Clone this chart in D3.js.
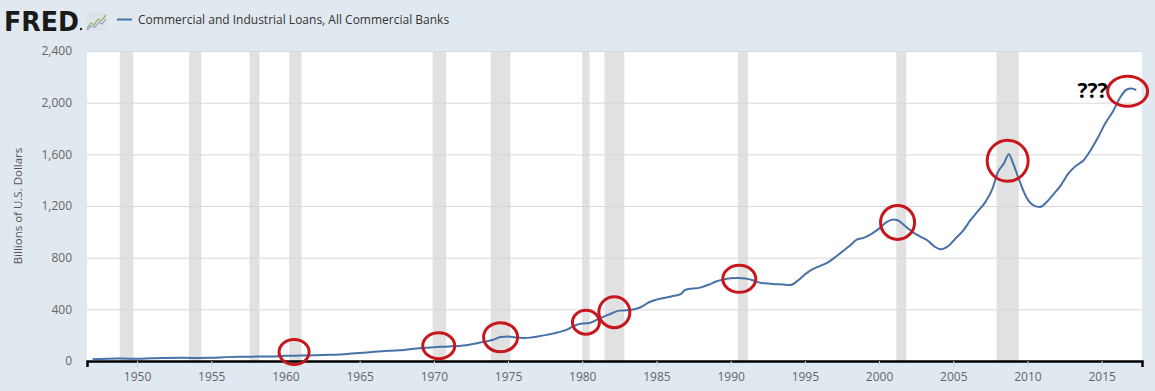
<!DOCTYPE html>
<html>
<head>
<meta charset="utf-8">
<script src="https://cdn.jsdelivr.net/npm/d3@7"></script>
<style>
  body { margin: 0; background: #e1e9f0; }
  svg { display: block; font-family: "Open Sans", sans-serif; }
</style>
</head>
<body>
<svg id="fredChart" width="1155" height="391"></svg>
<script>
// C&I loans, billions of dollars
const dates = [
  "1947-01","1948-01","1949-01","1950-01","1951-01","1952-01","1953-01","1954-01","1955-01","1956-01",
  "1957-01","1958-01","1959-01","1960-01","1961-01","1962-01","1963-01","1964-01","1965-01","1966-01",
  "1967-01","1968-01","1969-01","1970-01","1971-01","1972-01","1973-01","1974-01","1974-07","1975-01",
  "1975-07","1976-01","1976-07","1977-01","1978-01","1979-01","1979-07","1980-01","1980-07","1981-01",
  "1981-07","1982-01","1982-07","1983-01","1983-07","1984-01","1984-07","1985-01","1986-01","1986-09",
  "1986-12","1988-01","1988-07","1989-01","1989-07","1990-01","1990-07","1991-01","1991-07","1992-01",
  "1992-07","1993-01","1993-07","1994-01","1994-07","1995-01","1995-07","1996-01","1996-07","1997-01",
  "1997-07","1998-01","1998-07","1999-01","1999-07","2000-01","2000-07","2001-01","2001-04","2001-10",
  "2002-04","2002-10","2003-04","2003-10","2004-03","2004-09","2005-03","2005-09","2006-03","2006-09",
  "2007-03","2007-09","2008-01","2008-06","2008-10","2009-01","2009-06","2009-12","2010-06","2010-11",
  "2011-04","2011-10","2012-04","2012-10","2013-04","2013-10","2014-04","2014-10","2015-04","2015-10",
  "2016-04","2016-09","2017-01","2017-05"
];
const loans = [
  14, 18, 19, 17, 22, 24, 25, 24, 25, 30,
  33, 34, 35, 40, 42, 44, 48, 53, 61, 71,
  79, 86, 98, 107, 112, 120, 140, 165, 185, 189,
  182, 178, 181, 190, 212, 245, 275, 290, 295, 320,
  345, 370, 390, 392, 400, 420, 455, 475, 500, 520,
  550, 570, 590, 615, 632, 640, 642, 638, 625, 605,
  600, 595, 592, 588, 620, 670, 710, 735, 760, 800,
  845, 890, 940, 955, 985, 1025, 1075, 1095, 1090, 1045,
  1000, 965, 935, 885, 865, 890, 950, 1010, 1090, 1160,
  1230, 1340, 1460, 1530, 1600, 1540, 1410, 1270, 1205, 1192,
  1225, 1290, 1360, 1450, 1510, 1550, 1630, 1730, 1840, 1930,
  2040, 2100, 2110, 2098
];

// NBER recessions (peak, trough)
const recessionStart = ["1948-11","1953-07","1957-08","1960-04","1969-12","1973-11","1980-01","1981-07","1990-07","2001-03","2007-12"];
const recessionEnd   = ["1949-10","1954-05","1958-04","1961-02","1970-11","1975-03","1980-07","1982-11","1991-03","2001-11","2009-06"];

// red circles somebody drew on the chart
const circleDates  = ["1960-08","1970-05","1974-07","1980-04","1982-03","1990-08","2001-04","2008-09","2016-10"];
const circleValues = [70, 118, 184, 300, 378, 636, 1073, 1550, 2088];

const yTicks = [0, 400, 800, 1200, 1600, 2000, 2400];
const seriesTitle = "Commercial and Industrial Loans, All Commercial Banks";

const parse = d3.timeParse("%Y-%m");
const series = dates.map((d, i) => ({ date: parse(d), value: loans[i] }));

const margin = { top: 51, right: 13, bottom: 30, left: 87 },
  width = 1155 - margin.left - margin.right,
  height = 391 - margin.top - margin.bottom;

const svg = d3.select("#fredChart");

// header: logo + legend
svg.append("text")
  .attr("x", 4).attr("y", 30.5)
  .attr("textLength", 75)
  .attr("lengthAdjust", "spacingAndGlyphs")
  .style("font", "bold 26px 'DejaVu Sans', sans-serif")
  .style("fill", "#1a1a1a")
  .text("FRED");
svg.append("circle").attr("cx", 81).attr("cy", 29).attr("r", 1.2).style("fill", "#1a1a1a");

const icon = svg.append("g").attr("transform", "translate(86,12)");
icon.append("rect").attr("width", 21).attr("height", 19).style("fill", "#dfe3e6");
icon.append("polyline").attr("points", "1,16 5,11 8,13 12,7 15,9 20,3")
  .style("fill", "none").style("stroke", "#8fb06a").style("stroke-width", 1.2);
icon.append("polyline").attr("points", "1,18 5,14 9,15 13,10 16,12 20,7")
  .style("fill", "none").style("stroke", "#8aa6c6").style("stroke-width", 1.2);

svg.append("line")
  .attr("x1", 117).attr("x2", 132).attr("y1", 19.5).attr("y2", 19.5)
  .style("stroke", "#4572a7").style("stroke-width", 2);
svg.append("text")
  .attr("x", 138).attr("y", 24)
  .style("font-size", "12px")
  .style("fill", "#333")
  .text(seriesTitle);

const g = svg.append("g")
  .attr("transform", "translate(" + margin.left + "," + margin.top + ")");

const x = d3.scaleTime()
  .domain([new Date(1946, 7, 18), new Date(2017, 8, 20)])
  .range([0, width]);

const y = d3.scaleLinear()
  .domain([0, 2400])
  .range([height, 0]);

// plot background
g.append("rect")
  .attr("width", width)
  .attr("height", height)
  .style("fill", "#fff");

// recession shading
g.selectAll("rect.recession")
  .data(recessionStart.map((s, i) => [parse(s), parse(recessionEnd[i])]))
  .enter().append("rect")
  .attr("class", "recession")
  .attr("x", d => x(d[0]))
  .attr("y", 0)
  .attr("width", d => x(d[1]) - x(d[0]))
  .attr("height", height)
  .style("fill", "#e1e1e1");

// gridlines + y labels
const yAxis = g.append("g")
  .call(d3.axisLeft(y).tickValues(yTicks).tickSize(-width).tickPadding(15).tickFormat(d3.format(",")));
yAxis.select(".domain").remove();
yAxis.selectAll(".tick line").style("stroke", "#d8d8d8");
yAxis.selectAll(".tick text")
  .style("font-size", "12px")
  .style("font-family", "'Open Sans', sans-serif")
  .style("fill", "#666");

// x axis
const xAxis = g.append("g")
  .attr("transform", "translate(0," + height + ")")
  .call(d3.axisBottom(x)
    .tickValues(d3.range(1950, 2016, 5).map(yr => new Date(yr, 0, 1)))
    .tickSize(6).tickPadding(5).tickFormat(d3.timeFormat("%Y")));
xAxis.select(".domain").style("stroke", "#000").style("stroke-width", 2.5);
xAxis.selectAll(".tick line").style("stroke", "#ccd6e0");
xAxis.selectAll(".tick text")
  .style("font-size", "12px")
  .style("font-family", "'Open Sans', sans-serif")
  .style("fill", "#666");

svg.append("text")
  .attr("transform", "translate(22," + (margin.top + height / 2) + ")rotate(-90)")
  .attr("text-anchor", "middle")
  .style("font-size", "11.5px")
  .style("fill", "#555")
  .text("Billions of U.S. Dollars");

// the series
const line = d3.line()
  .x(d => x(d.date))
  .y(d => y(d.value))
  .curve(d3.curveMonotoneX);

g.append("path")
  .datum(series)
  .attr("d", line)
  .style("fill", "none")
  .style("stroke", "#4572a7")
  .style("stroke-width", 2);

// annotations
const radii = [[15, 12.5], [16, 13], [17, 14.5], [13.5, 12], [15.5, 15.5], [16.5, 13.5], [17, 17], [20.5, 20.5], [20, 15]];
g.selectAll("ellipse.mark")
  .data(circleDates.map((d, i) => ({ date: parse(d), value: circleValues[i], r: radii[i] })))
  .enter().append("ellipse")
  .attr("class", "mark")
  .attr("cx", d => x(d.date))
  .attr("cy", d => y(d.value))
  .attr("rx", d => d.r[0])
  .attr("ry", d => d.r[1])
  .style("fill", "none")
  .style("stroke", "#c8161d")
  .style("stroke-width", 3);

const last = circleDates.length - 1;
g.append("text")
  .attr("x", x(parse(circleDates[last])) - 20)
  .attr("y", y(circleValues[last]) + 7)
  .attr("text-anchor", "end")
  .style("font", "bold 21px 'Open Sans', sans-serif")
  .style("fill", "#000")
  .text("???");
</script>
</body>
</html>
